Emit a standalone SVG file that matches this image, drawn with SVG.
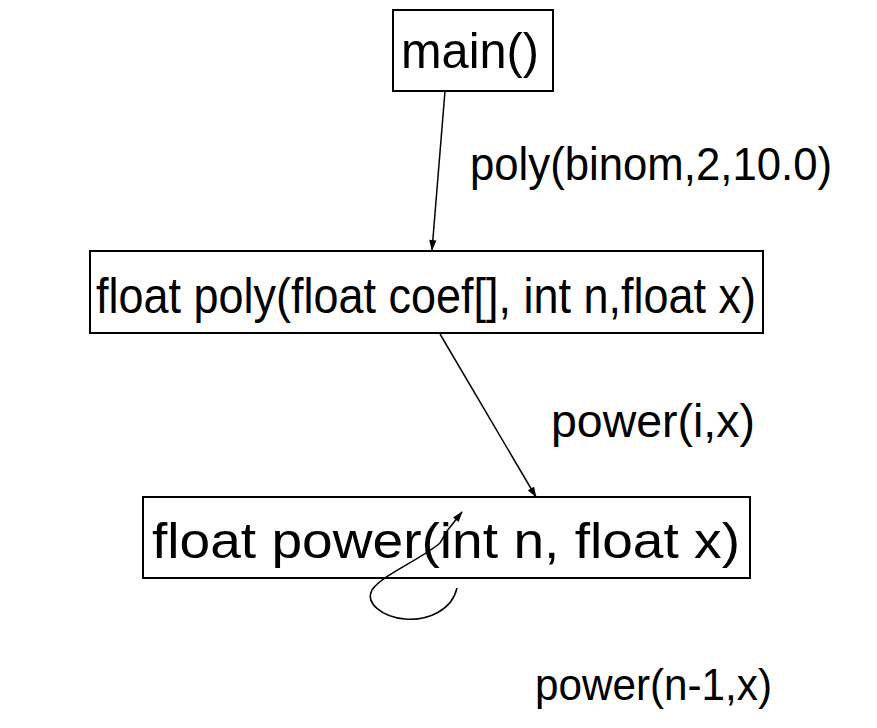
<svg xmlns="http://www.w3.org/2000/svg" width="877" height="728" viewBox="0 0 877 728">
<style>
.box{fill:#fff;stroke:#000;stroke-width:2}
.t{font-family:"Liberation Sans",Arial,sans-serif;fill:#000}
.c{fill:none;stroke:#000;stroke-width:1.5}
</style>
<defs>
<marker id="ah" viewBox="0 0 12 10" refX="11" refY="5" markerWidth="12" markerHeight="9" markerUnits="userSpaceOnUse" orient="auto">
<path d="M0,1 L12,5 L0,9 Z" fill="#000"/>
</marker>
</defs>
<rect width="877" height="728" fill="#fff"/>
<g id="main">
<rect class="box" x="393" y="10" width="160" height="81"/>
<text class="t" x="401" y="68" font-size="50" textLength="138" lengthAdjust="spacingAndGlyphs">main()</text>
</g>
<g id="poly">
<rect class="box" x="90" y="251" width="673" height="82"/>
<text class="t" x="96" y="313" font-size="50" textLength="660" lengthAdjust="spacingAndGlyphs">float poly(float coef[], int n,float x)</text>
</g>
<g id="power">
<rect class="box" x="143" y="497" width="607" height="81"/>
<text class="t" x="152" y="558" font-size="50" textLength="588" lengthAdjust="spacingAndGlyphs">float power(int n, float x)</text>
</g>
<g id="connectors">
<line class="c" x1="445" y1="91" x2="432" y2="250" marker-end="url(#ah)"/>
<line class="c" x1="440" y1="334" x2="536" y2="497" marker-end="url(#ah)"/>
<path class="c" d="M457,588 C452,610 428,621 405,619 C382,617 365,603 372,590 C382,575 420,560 440,543 L447,531 L462,512" marker-end="url(#ah)"/>
<text class="t" x="470" y="180" font-size="46" textLength="362" lengthAdjust="spacingAndGlyphs">poly(binom,2,10.0)</text>
<text class="t" x="551" y="437" font-size="46" textLength="204" lengthAdjust="spacingAndGlyphs">power(i,x)</text>
<text class="t" x="535" y="700" font-size="44" textLength="237" lengthAdjust="spacingAndGlyphs">power(n-1,x)</text>
</g>
</svg>
